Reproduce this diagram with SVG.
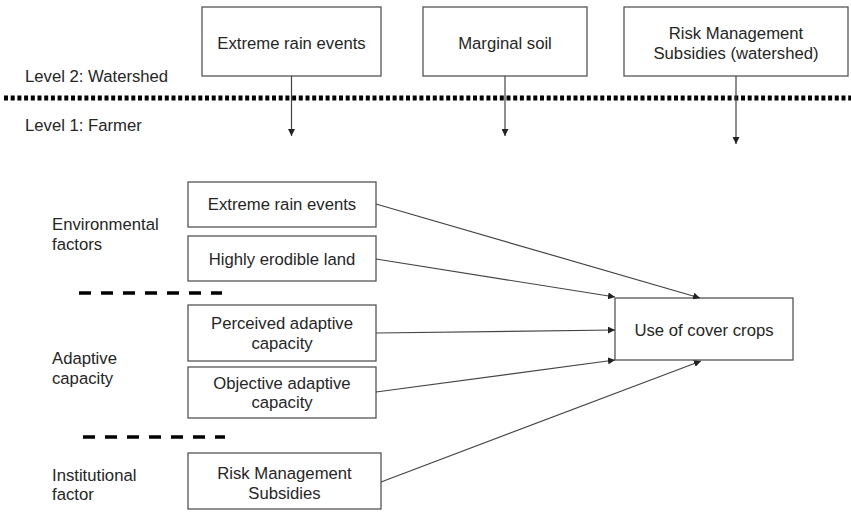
<svg xmlns="http://www.w3.org/2000/svg" width="851" height="514" viewBox="0 0 851 514">
<defs>
<marker id="ah" viewBox="0 0 10 10" refX="10" refY="5" markerWidth="7" markerHeight="7" markerUnits="userSpaceOnUse" orient="auto">
<path d="M0,0 L10,5 L0,10 z" fill="#222"/>
</marker>
</defs>
<style>
.box{fill:#fff;stroke:#555;stroke-width:1.3}
.t{font-family:"Liberation Sans",Arial,sans-serif;font-size:16.7px;fill:#262626;text-anchor:middle}
.l{font-family:"Liberation Sans",Arial,sans-serif;font-size:16.7px;fill:#262626}
.c{stroke:#444;stroke-width:1.2;fill:none;marker-end:url(#ah)}
.sep{stroke:#000;stroke-width:3.5;stroke-dasharray:12 10;fill:none}
</style>
<rect width="851" height="514" fill="#fff"/>
<g id="levels">
<text class="l" x="25" y="82">Level 2: Watershed</text>
<line x1="4" y1="98" x2="851" y2="98" stroke="#000" stroke-width="5" stroke-dasharray="4 2.7"/>
<text class="l" x="25" y="131">Level 1: Farmer</text>
</g>
<g id="top-extreme"><rect class="box" x="202" y="7" width="179" height="69"/><text class="t" x="291.5" y="49">Extreme rain events</text></g>
<g id="top-marginal"><rect class="box" x="423" y="7" width="164" height="69"/><text class="t" x="505" y="49">Marginal soil</text></g>
<g id="top-risk"><rect class="box" x="624" y="7" width="224" height="69"/><text class="t" x="736" y="39">Risk Management</text><text class="t" x="736" y="59">Subsidies (watershed)</text></g>
<g id="group-labels">
<text class="l" x="52" y="230">Environmental</text><text class="l" x="52" y="250">factors</text>
<text class="l" x="52" y="364">Adaptive</text><text class="l" x="52" y="384">capacity</text>
<text class="l" x="52" y="481">Institutional</text><text class="l" x="52" y="500">factor</text>
<line class="sep" x1="79" y1="293" x2="222" y2="293"/>
<line class="sep" x1="83" y1="437" x2="225" y2="437"/>
</g>
<g id="n-extreme"><rect class="box" x="188" y="182" width="188" height="45"/><text class="t" x="282" y="210">Extreme rain events</text></g>
<g id="n-erodible"><rect class="box" x="188" y="236" width="188" height="45"/><text class="t" x="282" y="265">Highly erodible land</text></g>
<g id="n-perceived"><rect class="box" x="188" y="305" width="188" height="56"/><text class="t" x="282" y="329">Perceived adaptive</text><text class="t" x="282" y="349">capacity</text></g>
<g id="n-objective"><rect class="box" x="188" y="367" width="188" height="51"/><text class="t" x="282" y="389">Objective adaptive</text><text class="t" x="282" y="408">capacity</text></g>
<g id="n-risk"><rect class="box" x="188" y="453" width="193" height="56"/><text class="t" x="284.5" y="479">Risk Management</text><text class="t" x="284.5" y="499">Subsidies</text></g>
<g id="n-cover"><rect class="box" x="615" y="298" width="178" height="62"/><text class="t" x="704" y="336">Use of cover crops</text></g>
<g id="connectors">
<line class="c" x1="291.5" y1="76" x2="291.5" y2="136"/>
<line class="c" x1="505" y1="76" x2="505" y2="136"/>
<line class="c" x1="736" y1="76" x2="736" y2="144"/>
<line class="c" x1="376" y1="204" x2="700" y2="298"/>
<line class="c" x1="376" y1="259" x2="615" y2="297"/>
<line class="c" x1="376" y1="333" x2="615" y2="330"/>
<line class="c" x1="376" y1="392" x2="615" y2="360"/>
<line class="c" x1="381" y1="482" x2="701" y2="361"/>
</g>
</svg>
